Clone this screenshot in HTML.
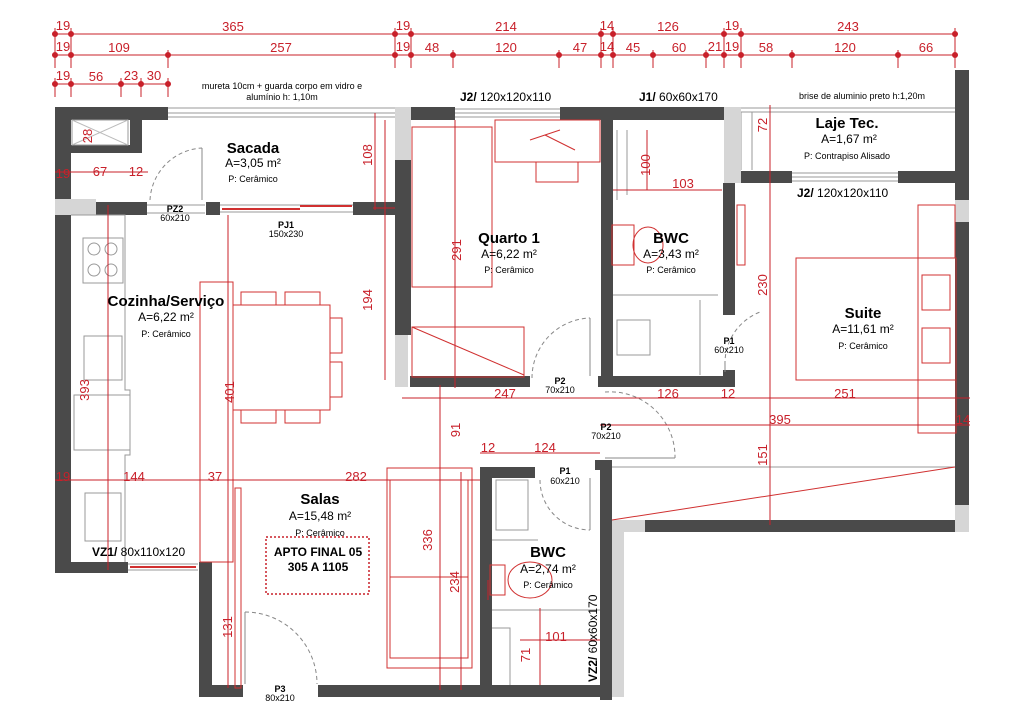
<!DOCTYPE html>
<html><head><meta charset="utf-8"><style>
html,body{margin:0;padding:0;background:#fff}
svg{display:block}
.d{font-family:"Liberation Sans",sans-serif;font-size:13px;fill:#c8202a}
.t{font-family:"Liberation Sans",sans-serif;fill:#000}
</style></head><body>
<svg width="1024" height="724" viewBox="0 0 1024 724" xmlns="http://www.w3.org/2000/svg">
<rect width="1024" height="724" fill="#fff"/>
<g stroke="#c8202a" stroke-width="1" fill="#c8202a">
<line x1="52" y1="34" x2="958" y2="34"/>
<line x1="52" y1="55" x2="958" y2="55"/>
<line x1="52" y1="84" x2="170" y2="84"/>
<g>
<circle cx="55" cy="34" r="2.5"/><circle cx="71" cy="34" r="2.5"/><circle cx="395" cy="34" r="2.5"/><circle cx="411" cy="34" r="2.5"/><circle cx="601" cy="34" r="2.5"/><circle cx="613" cy="34" r="2.5"/><circle cx="724" cy="34" r="2.5"/><circle cx="741" cy="34" r="2.5"/><circle cx="955" cy="34" r="2.5"/>
<circle cx="55" cy="55" r="2.5"/><circle cx="71" cy="55" r="2.5"/><circle cx="168" cy="55" r="2.5"/><circle cx="395" cy="55" r="2.5"/><circle cx="411" cy="55" r="2.5"/><circle cx="453" cy="55" r="2.5"/><circle cx="559" cy="55" r="2.5"/><circle cx="601" cy="55" r="2.5"/><circle cx="613" cy="55" r="2.5"/><circle cx="653" cy="55" r="2.5"/><circle cx="706" cy="55" r="2.5"/><circle cx="724" cy="55" r="2.5"/><circle cx="741" cy="55" r="2.5"/><circle cx="792" cy="55" r="2.5"/><circle cx="898" cy="55" r="2.5"/><circle cx="955" cy="55" r="2.5"/>
<circle cx="55" cy="84" r="2.5"/><circle cx="71" cy="84" r="2.5"/><circle cx="121" cy="84" r="2.5"/><circle cx="141" cy="84" r="2.5"/><circle cx="168" cy="84" r="2.5"/>
</g>
<path d="M55 28V68M71 28V68M395 28V68M411 28V68M601 28V68M613 28V68M724 28V68M741 28V68M955 28V68M168 50V68M453 50V68M559 50V68M653 50V68M706 50V68M792 50V68M898 50V68M55 78V97M71 78V97M121 78V97M141 78V97M168 78V97"/>
</g>
<g class="d" text-anchor="middle">
<text x="63" y="30">19</text><text x="233" y="31">365</text><text x="403" y="30">19</text><text x="506" y="31">214</text><text x="607" y="30">14</text><text x="668" y="31">126</text><text x="732" y="30">19</text><text x="848" y="31">243</text>
<text x="63" y="51">19</text><text x="119" y="52">109</text><text x="281" y="52">257</text><text x="403" y="51">19</text><text x="432" y="52">48</text><text x="506" y="52">120</text><text x="580" y="52">47</text><text x="607" y="51">14</text><text x="633" y="52">45</text><text x="679" y="52">60</text><text x="715" y="51">21</text><text x="732" y="51">19</text><text x="766" y="52">58</text><text x="845" y="52">120</text><text x="926" y="52">66</text>
<text x="63" y="80">19</text><text x="96" y="81">56</text><text x="131" y="80">23</text><text x="154" y="80">30</text>
</g>
<text x="282" y="89" font-family="Liberation Sans,sans-serif" font-size="9" text-anchor="middle">mureta 10cm + guarda corpo em vidro e</text>
<text x="282" y="100" font-family="Liberation Sans,sans-serif" font-size="9" text-anchor="middle">alumínio h: 1,10m</text>
<text x="862" y="99" font-family="Liberation Sans,sans-serif" font-size="9" text-anchor="middle">brise de aluminio preto h:1,20m</text>

<g stroke="#999" fill="none" stroke-width="1">
<path d="M168 108H395M168 113H395M168 117H395"/>
<path d="M455 109H560M455 113H560M455 117H560"/>
<path d="M741 108H955M741 112H955"/>
<path d="M792 173H898M792 177H898M792 181H898"/>
<path d="M741 112V170M752 112V170"/>
<path d="M220 205H353M220 212H353"/>
<path d="M147 205H205M147 213H205"/>
<path d="M612 467H955"/>
<path d="M128 564H198M128 570H198"/>
</g>
<path d="M130 567H196M222 209H300M300 206H352" stroke="#d03030" stroke-width="2"/>

<g fill="#4a4a4a">
<rect x="55" y="107" width="113" height="13"/>
<rect x="55" y="107" width="16" height="92"/>
<rect x="130" y="107" width="12" height="46"/>
<rect x="55" y="145" width="87" height="8"/>
<rect x="96" y="202" width="51" height="13"/>
<rect x="206" y="202" width="14" height="13"/>
<rect x="353" y="202" width="42" height="13"/>
<rect x="55" y="215" width="16" height="358"/>
<rect x="395" y="160" width="16" height="175"/>
<rect x="411" y="107" width="44" height="13"/>
<rect x="560" y="107" width="164" height="13"/>
<rect x="601" y="120" width="12" height="267"/>
<rect x="723" y="183" width="12" height="132"/>
<rect x="723" y="370" width="12" height="17"/>
<rect x="410" y="376" width="120" height="11"/>
<rect x="598" y="376" width="137" height="11"/>
<rect x="741" y="171" width="51" height="12"/>
<rect x="898" y="171" width="57" height="12"/>
<rect x="955" y="70" width="14" height="130"/>
<rect x="955" y="222" width="14" height="283"/>
<rect x="645" y="520" width="310" height="12"/>
<rect x="600" y="460" width="12" height="240"/>
<rect x="595" y="460" width="17" height="10"/>
<rect x="480" y="467" width="12" height="220"/>
<rect x="480" y="467" width="55" height="11"/>
<rect x="55" y="562" width="73" height="11"/>
<rect x="199" y="562" width="13" height="135"/>
<rect x="199" y="685" width="44" height="12"/>
<rect x="318" y="685" width="306" height="12"/>
</g>
<g fill="#d6d6d6">
<rect x="395" y="107" width="16" height="53"/>
<rect x="395" y="335" width="13" height="52"/>
<rect x="724" y="107" width="17" height="76"/>
<rect x="55" y="199" width="41" height="16"/>
<rect x="955" y="200" width="14" height="22"/>
<rect x="955" y="505" width="14" height="27"/>
<rect x="612" y="520" width="33" height="12"/>
<rect x="612" y="532" width="12" height="165"/>
</g>
<path d="M72 120H128V145H72Z" fill="#fff" stroke="#999"/>
<path d="M72 120L128 145M72 145L128 120" stroke="#bbb"/>

<g fill="none" stroke="#888" stroke-dasharray="4,3">
<path d="M150 200A55 55 0 0 1 202 148"/>
<path d="M532 378A60 60 0 0 1 590 318"/>
<path d="M725 365A55 55 0 0 1 760 312"/>
<path d="M605 392A65 65 0 0 1 675 458"/>
<path d="M540 480A50 50 0 0 0 590 530"/>
<path d="M245 612A72 72 0 0 1 317 684"/>
</g>
<g fill="none" stroke="#888">
<path d="M202 148V200M590 318V376M725 365V372M605 458H675M590 478V530M245 612V684"/>
</g>

<g fill="none" stroke="#999">
<rect x="83" y="238" width="40" height="45"/>
<circle cx="94" cy="249" r="6"/><circle cx="111" cy="249" r="6"/><circle cx="94" cy="270" r="6"/><circle cx="111" cy="270" r="6"/>
<rect x="84" y="336" width="38" height="44"/>
<rect x="74" y="395" width="56" height="55"/>
<rect x="85" y="493" width="36" height="48"/>
<path d="M71 215H125V390H130V455H125V562"/>
<rect x="617" y="320" width="33" height="35"/>
<path d="M613 295H718M700 300V375"/>
<rect x="496" y="480" width="32" height="50"/>
<path d="M492 540H538M492 610H600M492 628H510V685"/>
<path d="M617 130V200M627 130V195"/>
</g>

<g fill="none" stroke="#d03030">
<rect x="200" y="282" width="33" height="280"/>
<rect x="233" y="305" width="97" height="105"/>
<rect x="241" y="292" width="35" height="13"/><rect x="285" y="292" width="35" height="13"/>
<rect x="241" y="410" width="35" height="13"/><rect x="285" y="410" width="35" height="13"/>
<rect x="330" y="318" width="12" height="35"/><rect x="330" y="362" width="12" height="35"/>
<rect x="412" y="127" width="80" height="160"/>
<rect x="412" y="327" width="112" height="50"/>
<path d="M412 327L524 375"/>
<rect x="495" y="120" width="105" height="42"/>
<rect x="536" y="162" width="42" height="20"/>
<path d="M530 140L560 130M545 135L575 150"/>
<rect x="612" y="225" width="22" height="40"/>
<ellipse cx="648" cy="245" rx="15" ry="18"/>
<rect x="796" y="258" width="160" height="122"/>
<rect x="918" y="258" width="38" height="175"/>
<rect x="922" y="275" width="28" height="35"/><rect x="922" y="328" width="28" height="35"/>
<rect x="918" y="205" width="37" height="53"/>
<rect x="737" y="205" width="8" height="60"/>
<rect x="387" y="468" width="85" height="200"/><rect x="390" y="480" width="78" height="178"/>
<path d="M390 577H468"/>
<rect x="490" y="565" width="15" height="30"/>
<ellipse cx="530" cy="580" rx="22" ry="18"/>
<path d="M612 520L955 467"/>
<rect x="235" y="488" width="6" height="200"/>
</g>
<rect x="266" y="537" width="103" height="57" fill="none" stroke="#c8202a" stroke-width="1.5" stroke-dasharray="2,2"/>

<g stroke="#c8202a" fill="none">
<path d="M55 172H148M375 113V210M373 208H395M108 205V570M228 215V688M440 385V690M455 120V388M770 105V525M647 130V190M613 190H722M402 398H970M600 425H970M480 453H600M215 480H480M55 480H215M488 580V600M520 640H600M540 608V685M461 472V690M385 120V380"/>
</g>
<g class="d" text-anchor="middle">
<text x="63" y="178">19</text><text x="100" y="176">67</text><text x="136" y="176">12</text>
<text x="505" y="398">247</text><text x="668" y="398">126</text><text x="728" y="398">12</text><text x="845" y="398">251</text>
<text x="780" y="424">395</text><text x="963" y="424">14</text><text x="683" y="188">103</text><text x="488" y="452">12</text><text x="545" y="452">124</text>
<text x="63" y="481">19</text><text x="134" y="481">144</text><text x="215" y="481">37</text><text x="356" y="481">282</text>
<text x="556" y="641">101</text>
<text transform="translate(372 155) rotate(-90)">108</text>
<text transform="translate(372 300) rotate(-90)">194</text>
<text transform="translate(89 390) rotate(-90)">393</text>
<text transform="translate(234 392) rotate(-90)">401</text>
<text transform="translate(461 250) rotate(-90)">291</text>
<text transform="translate(460 430) rotate(-90)">91</text>
<text transform="translate(650 165) rotate(-90)">100</text>
<text transform="translate(767 285) rotate(-90)">230</text>
<text transform="translate(767 125) rotate(-90)">72</text>
<text transform="translate(767 455) rotate(-90)">151</text>
<text transform="translate(432 540) rotate(-90)">336</text>
<text transform="translate(459 582) rotate(-90)">234</text>
<text transform="translate(232 627) rotate(-90)">131</text>
<text transform="translate(530 655) rotate(-90)">71</text>
<text transform="translate(92 136) rotate(-90)">28</text>
</g>

<g class="t" text-anchor="middle">
<text x="253" y="153" font-size="15" font-weight="bold">Sacada</text>
<text x="253" y="167" font-size="12">A=3,05 m²</text>
<text x="253" y="182" font-size="9">P: Cerâmico</text>
<text x="166" y="306" font-size="15" font-weight="bold">Cozinha/Serviço</text>
<text x="166" y="321" font-size="12">A=6,22 m²</text>
<text x="166" y="337" font-size="9">P: Cerâmico</text>
<text x="509" y="243" font-size="15" font-weight="bold">Quarto 1</text>
<text x="509" y="258" font-size="12">A=6,22 m²</text>
<text x="509" y="273" font-size="9">P: Cerâmico</text>
<text x="671" y="243" font-size="15" font-weight="bold">BWC</text>
<text x="671" y="258" font-size="12">A=3,43 m²</text>
<text x="671" y="273" font-size="9">P: Cerâmico</text>
<text x="847" y="128" font-size="15" font-weight="bold">Laje Tec.</text>
<text x="849" y="143" font-size="12">A=1,67 m²</text>
<text x="847" y="159" font-size="9">P: Contrapiso Alisado</text>
<text x="863" y="318" font-size="15" font-weight="bold">Suite</text>
<text x="863" y="333" font-size="12">A=11,61 m²</text>
<text x="863" y="349" font-size="9">P: Cerâmico</text>
<text x="320" y="504" font-size="15" font-weight="bold">Salas</text>
<text x="320" y="520" font-size="12">A=15,48 m²</text>
<text x="320" y="536" font-size="9">P: Cerâmico</text>
<text x="318" y="556" font-size="12" font-weight="bold">APTO FINAL 05</text>
<text x="318" y="571" font-size="12" font-weight="bold">305 A 1105</text>
<text x="548" y="557" font-size="15" font-weight="bold">BWC</text>
<text x="548" y="573" font-size="12">A=2,74 m²</text>
<text x="548" y="588" font-size="9">P: Cerâmico</text>
<g font-size="9"><text x="175" y="212" font-weight="bold">PZ2</text><text x="175" y="221">60x210</text>
<text x="286" y="228" font-weight="bold">PJ1</text><text x="286" y="237">150x230</text>
<text x="560" y="384" font-weight="bold">P2</text><text x="560" y="393">70x210</text>
<text x="729" y="344" font-weight="bold">P1</text><text x="729" y="353">60x210</text>
<text x="606" y="430" font-weight="bold">P2</text><text x="606" y="439">70x210</text>
<text x="565" y="474" font-weight="bold">P1</text><text x="565" y="484">60x210</text>
<text x="280" y="692" font-weight="bold">P3</text><text x="280" y="701">80x210</text></g>
</g>
<g class="t" font-size="12">
<text x="460" y="101"><tspan font-weight="bold">J2/</tspan> 120x120x110</text>
<text x="639" y="101"><tspan font-weight="bold">J1/</tspan> 60x60x170</text>
<text x="797" y="197"><tspan font-weight="bold">J2/</tspan> 120x120x110</text>
<text x="92" y="556"><tspan font-weight="bold">VZ1/</tspan> 80x110x120</text>
<text transform="translate(597 682) rotate(-90)"><tspan font-weight="bold">VZ2/</tspan> 60x60x170</text>
</g>
</svg>
</body></html>
